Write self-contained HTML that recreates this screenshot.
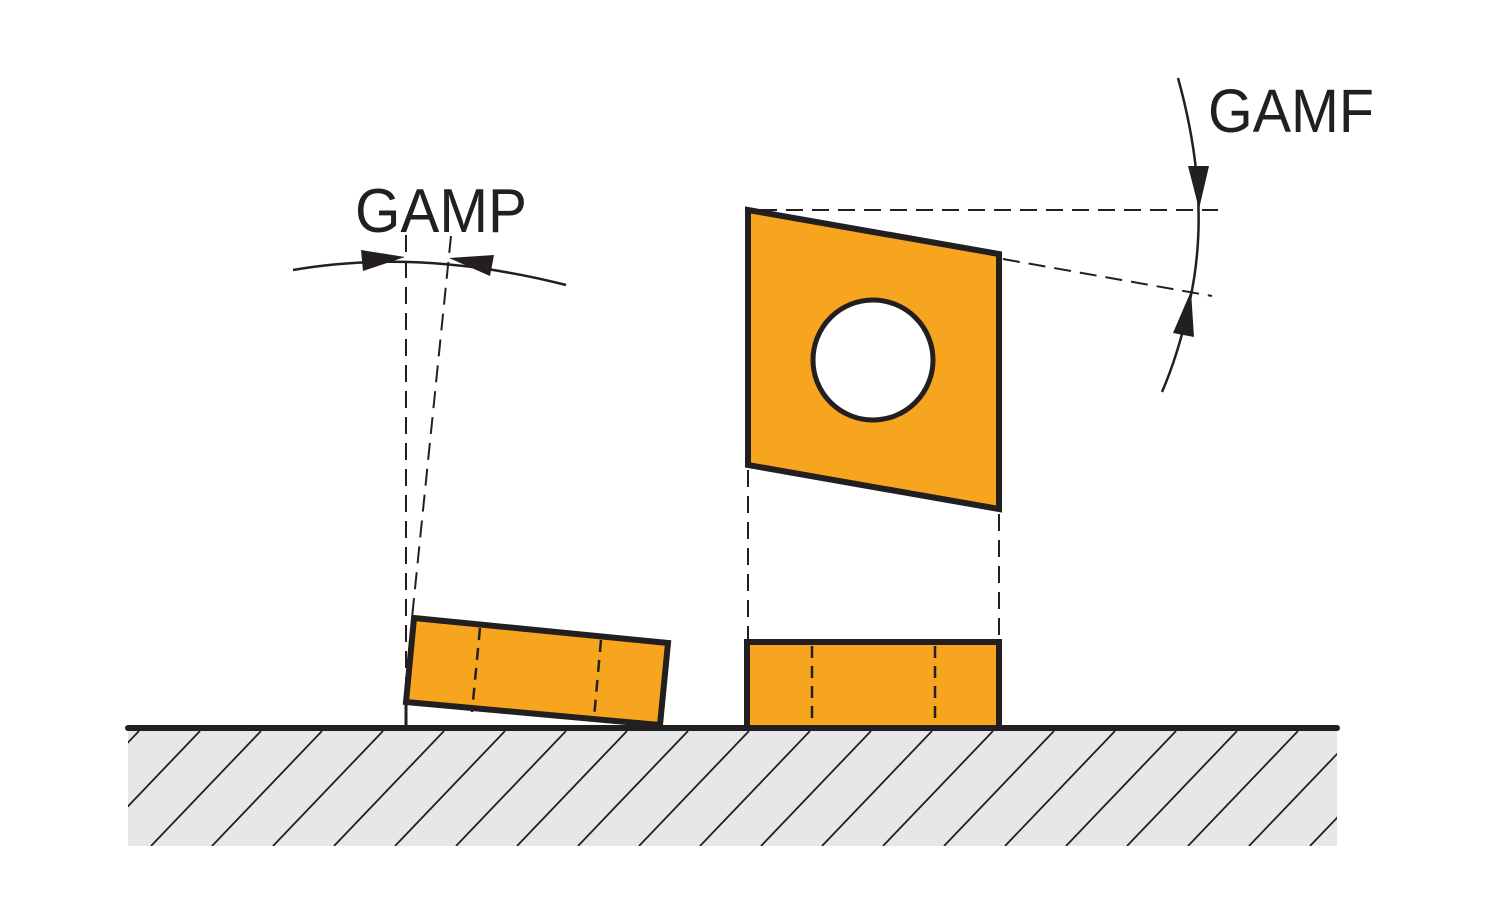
<!DOCTYPE html>
<html><head><meta charset="utf-8"><style>html,body{margin:0;padding:0;background:#fff}svg{display:block}</style></head>
<body>
<svg width="1500" height="924" viewBox="0 0 1500 924" xmlns="http://www.w3.org/2000/svg">
<defs>
<clipPath id="hc"><rect x="128" y="731" width="1209" height="115"/></clipPath>
</defs>
<rect x="128" y="731" width="1209" height="115" fill="#e6e7e8"/>
<g clip-path="url(#hc)" stroke="#231f20" stroke-width="1.8">
<path d="M90 846 L200 731 M151 846 L261 731 M212 846 L322 731 M273 846 L383 731 M334 846 L444 731 M395 846 L505 731 M456 846 L566 731 M517 846 L627 731 M578 846 L688 731 M639 846 L749 731 M700 846 L810 731 M761 846 L871 731 M822 846 L932 731 M883 846 L993 731 M944 846 L1054 731 M1005 846 L1115 731 M1066 846 L1176 731 M1127 846 L1237 731 M1188 846 L1298 731 M1249 846 L1359 731 M1310 846 L1420 731 M29 846 L139 731"/>
</g>
<!-- left insert -->
<path d="M406 705 L406 728" stroke="#231f20" stroke-width="3"/>
<polygon points="414,618 668,643 660,725 406,702" fill="#f7a51e" stroke="#231f20" stroke-width="6" stroke-linejoin="miter"/>
<g stroke="#231f20" stroke-width="2.5" stroke-dasharray="12,8" fill="none">
<path d="M480 628 L472 712"/>
<path d="M601 640 L594 718"/>
</g>
<g stroke="#231f20" stroke-width="2" stroke-dasharray="17,9" fill="none">
<path d="M406 235 L406 700"/>
<path d="M451 236 L412 618"/>
</g>
<path d="M293 270 Q420 248 566 285" stroke="#231f20" stroke-width="2.5" fill="none"/>
<polygon points="405,257 361,250 363,271" fill="#231f20"/>
<polygon points="449,258 494,255 490,276" fill="#231f20"/>
<text x="355" y="232" font-family="Liberation Sans, sans-serif" font-size="62" fill="#231f20" textLength="172" lengthAdjust="spacingAndGlyphs">GAMP</text>
<!-- right top insert -->
<g stroke="#231f20" stroke-width="2" stroke-dasharray="17,9" fill="none">
<path d="M760 210 L1218 210"/>
<path d="M1003 259 L1212 296"/>
<path d="M748 470 L748 640"/>
<path d="M999 514 L999 640"/>
</g>
<polygon points="748,210 999,254 999,509 748,465" fill="#f7a51e" stroke="#231f20" stroke-width="6"/>
<circle cx="873" cy="360" r="60" fill="#fff" stroke="#231f20" stroke-width="5"/>
<path d="M1178 78 Q1212 200 1190 300 Q1180 350 1162 392" stroke="#231f20" stroke-width="2.5" fill="none"/>
<polygon points="1199,209 1188,166 1209,166" fill="#231f20"/>
<polygon points="1191,291 1173,333 1194,337" fill="#231f20"/>
<text x="1208" y="132" font-family="Liberation Sans, sans-serif" font-size="61" fill="#231f20" textLength="166" lengthAdjust="spacingAndGlyphs">GAMF</text>
<!-- right bottom insert -->
<rect x="747" y="642" width="252" height="86" fill="#f7a51e" stroke="#231f20" stroke-width="6"/>
<g stroke="#231f20" stroke-width="2.5" stroke-dasharray="12,8" fill="none">
<path d="M812 646 L812 726"/>
<path d="M935 646 L935 726"/>
</g>
<!-- ground line -->
<path d="M128 728 L1337 728" stroke="#231f20" stroke-width="6" stroke-linecap="round"/>
</svg>
</body></html>
